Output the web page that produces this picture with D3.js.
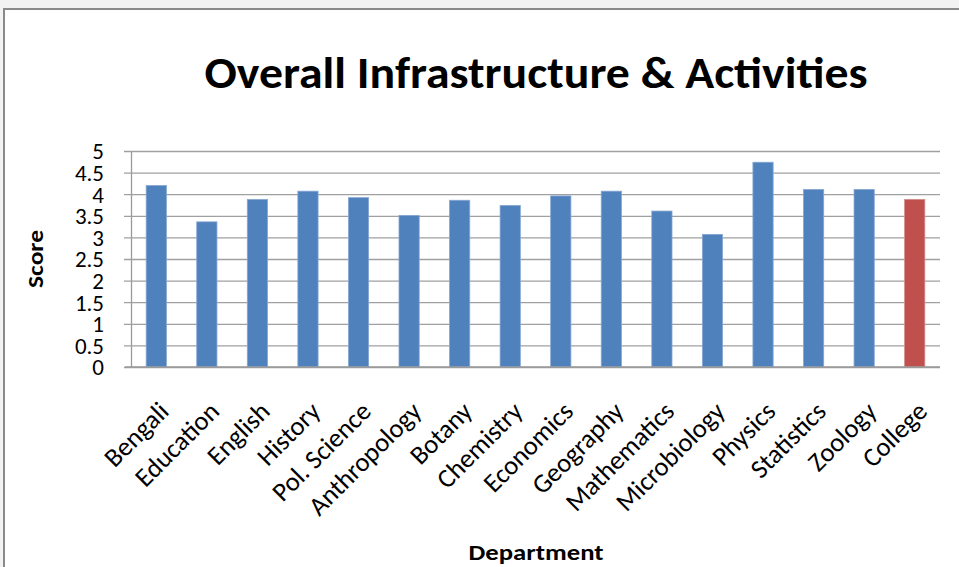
<!DOCTYPE html>
<html>
<head>
<meta charset="utf-8">
<script src="https://cdn.jsdelivr.net/npm/d3@7"></script>
<style>
  html, body { margin: 0; padding: 0; background: #f2f2f2; }
  svg { display: block; }
  text { font-family: Calibri, Carlito, Lato, "Open Sans", sans-serif; fill: #000; }
</style>
</head>
<body>
<svg id="chart" width="959" height="567"></svg>
<script>
// chart data
const departments = ['Bengali', 'Education', 'English', 'History', 'Pol. Science',
  'Anthropology', 'Botany', 'Chemistry', 'Economics', 'Geography', 'Mathematics',
  'Microbiology', 'Physics', 'Statistics', 'Zoology', 'College'];
const scores = [4.20, 3.36, 3.88, 4.07, 3.92, 3.51, 3.86, 3.74, 3.96, 4.07, 3.61,
  3.07, 4.74, 4.11, 4.11, 3.88];
const yTicks = [0, 0.5, 1, 1.5, 2, 2.5, 3, 3.5, 4, 4.5, 5];

const width = 959;
const height = 567;
const margin = { top: 151, right: 19, bottom: 200, left: 131 };

const svg = d3.select('#chart');

// white chart box with its grey frame
svg.append('rect')
  .attr('x', 4)
  .attr('y', 9)
  .attr('width', width + 20)
  .attr('height', height + 20)
  .attr('fill', '#fff')
  .attr('stroke', '#8a8a8a')
  .attr('stroke-width', 2);

const x = d3.scaleBand()
  .domain(departments)
  .range([margin.left, width - margin.right])
  .paddingInner(0.6)
  .paddingOuter(0.3);

const y = d3.scaleLinear()
  .domain([0, 5])
  .range([height - margin.bottom, margin.top]);

// gridlines + y ticks
const yAxis = d3.axisLeft(y)
  .tickValues(yTicks)
  .tickSize(-(width - margin.right - margin.left))
  .tickSizeOuter(0)
  .tickPadding(0)
  .tickFormat(d3.format('~g'));

const gy = svg.append('g')
  .attr('transform', `translate(${margin.left},0)`)
  .call(yAxis);

gy.select('.domain').attr('stroke', '#9a9a9a').attr('stroke-width', 1.3);
gy.selectAll('.tick line')
  .attr('x1', -7)
  .attr('stroke', '#a0a0a0')
  .attr('stroke-width', 1.3);
gy.selectAll('.tick text')
  .attr('x', -27)
  .attr('dy', '0.34em')
  .style('font-size', '23px')
  .style('fill', '#000');

// bars
svg.append('g')
  .selectAll('rect')
  .data(departments)
  .join('rect')
  .attr('x', (d) => x(d))
  .attr('y', (d, i) => y(scores[i]))
  .attr('width', x.bandwidth())
  .attr('height', (d, i) => y(0) - y(scores[i]))
  .attr('fill', (d) => d === 'College' ? '#c0504d' : '#4f81bd')
  .attr('stroke', (d) => d === 'College' ? '#d48d8b' : '#86a7d2')
  .attr('stroke-width', 0.8);

// baseline over the bars
svg.append('line')
  .attr('x1', margin.left - 6)
  .attr('x2', width - margin.right)
  .attr('y1', y(0))
  .attr('y2', y(0))
  .attr('stroke', '#9a9a9a')
  .attr('stroke-width', 1.3);

// rotated category labels
svg.append('g')
  .selectAll('text')
  .data(departments)
  .join('text')
  .attr('text-anchor', 'end')
  .attr('transform', (d) => `translate(${x(d) + x.bandwidth() / 2 + 14},${y(0) + 46}) rotate(-45)`)
  .style('font-size', '26.5px')
  .text((d) => d);

// titles
svg.append('text')
  .attr('x', 536)
  .attr('y', 88)
  .attr('text-anchor', 'middle')
  .attr('textLength', 663)
  .attr('lengthAdjust', 'spacingAndGlyphs')
  .style('font-size', '45px')
  .style('font-weight', 'bold')
  .text('Overall Infrastructure & Activities');

svg.append('text')
  .attr('transform', 'translate(43,259) rotate(-90)')
  .attr('text-anchor', 'middle')
  .attr('textLength', 58)
  .attr('lengthAdjust', 'spacingAndGlyphs')
  .style('font-size', '23px')
  .style('font-weight', 'bold')
  .text('Score');

svg.append('text')
  .attr('x', 536)
  .attr('y', 560)
  .attr('text-anchor', 'middle')
  .attr('textLength', 135)
  .attr('lengthAdjust', 'spacingAndGlyphs')
  .style('font-size', '23px')
  .style('font-weight', 'bold')
  .text('Department');
</script>
</body>
</html>
